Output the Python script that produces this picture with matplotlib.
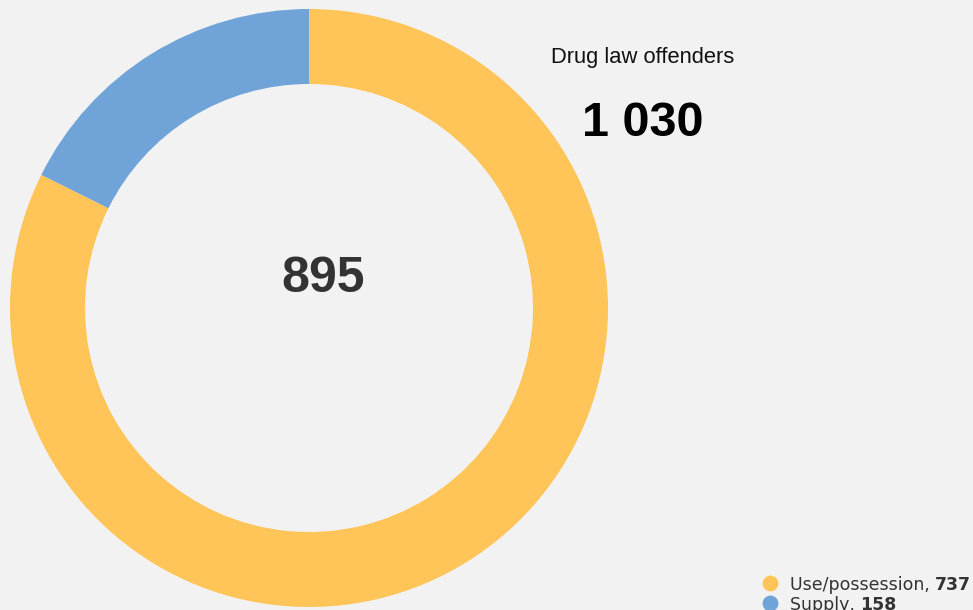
import matplotlib.pyplot as plt

labels = ['Use/possession', 'Supply']
values = [737, 158]
colors = ['#FFC558', '#70A4D8']
title = 'Drug law offenders'
total_text = '1 030'
center_text = '895'

W, H = 973, 610
bg = '#F2F2F2'

fig = plt.figure(figsize=(W / 100, H / 100), dpi=100, facecolor=bg)
ax = fig.add_axes([0, 0, 1, 1])
ax.set_facecolor(bg)

# donut, pixel coords with y going up
ax.pie(values, colors=colors, startangle=90, counterclock=False,
       center=(309, H - 308), radius=299,
       wedgeprops=dict(width=75, linewidth=0))
ax.set_xlim(0, W)
ax.set_ylim(0, H)
ax.set_aspect('equal')
ax.axis('off')

ax.text(323, H - 279, center_text, ha='center', va='center',
        fontsize=36, fontweight='bold', color='#333333', family='Liberation Sans')
ax.text(643, H - 57, title, ha='center', va='center',
        fontsize=15.8, color='#111111', family='Liberation Sans')
ax.text(643, H - 123, total_text, ha='center', va='center',
        fontsize=35, fontweight='bold', color='#000000', family='Liberation Sans')

# legend (the second row is cut by the bottom edge, as in the source)
for i, (lab, v, c) in enumerate(zip(labels, values, colors)):
    y = H - 583 - i * 20
    ax.scatter([770], [y], s=130, color=c, linewidths=0)
    t = ax.text(790, y - 7, lab + ', ', ha='left', va='baseline',
                fontsize=12.5, color='#333333', family='DejaVu Sans')
    ax.annotate(str(v), xy=(1, 0), xycoords=t, ha='left', va='bottom',
                fontsize=12.5, fontweight='bold', color='#333333', family='DejaVu Sans')

fig.savefig('out.png', dpi=100, facecolor=bg)
